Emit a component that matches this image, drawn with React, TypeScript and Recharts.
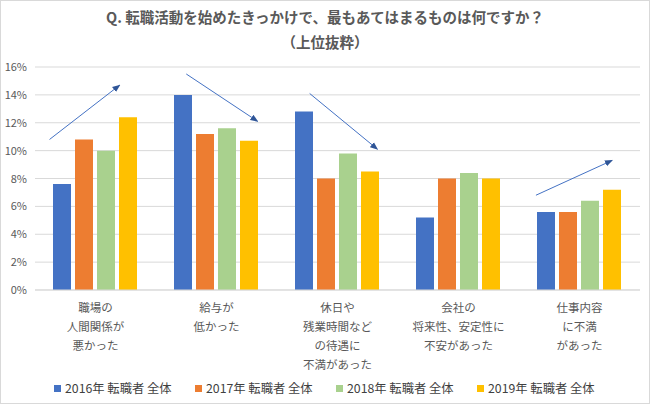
import React from "react";
import {
  BarChart,
  Bar,
  XAxis,
  YAxis,
  CartesianGrid,
  Legend,
  ReferenceLine,
  Customized,
} from "recharts";

if (typeof document !== "undefined") {
  document.body.style.margin = "0";
}

const categories = [
  "職場の\n人間関係が\n悪かった",
  "給与が\n低かった",
  "休日や\n残業時間など\nの待遇に\n不満があった",
  "会社の\n将来性、安定性に\n不安があった",
  "仕事内容\nに不満\nがあった",
];
const series2016 = [7.6, 14.0, 12.8, 5.2, 5.6];
const series2017 = [10.8, 11.2, 8.0, 8.0, 5.6];
const series2018 = [10.0, 11.6, 9.8, 8.4, 6.4];
const series2019 = [12.4, 10.7, 8.5, 8.0, 7.2];
const seriesNames = [
  "2016年 転職者 全体",
  "2017年 転職者 全体",
  "2018年 転職者 全体",
  "2019年 転職者 全体",
];
const seriesKeys = ["y2016", "y2017", "y2018", "y2019"];
const seriesColors = ["#4472C4", "#ED7D31", "#A9D18E", "#FFC000"];
const yTicks = [0, 2, 4, 6, 8, 10, 12, 14, 16];
const titleLines = [
  "Q. 転職活動を始めたきっかけで、最もあてはまるものは何ですか？",
  "（上位抜粋）",
];
// category centre positions on a continuous 0..5 scale
const categoryPos = [0.5, 1.5, 2.5, 3.5, 4.5];
// trend arrows, in (category-position, percent) units
const arrows = [
  [{ x: 0.12, y: 10.8 }, { x: 0.7, y: 14.7 }],
  [{ x: 1.25, y: 15.5 }, { x: 1.84, y: 12.1 }],
  [{ x: 2.27, y: 14.1 }, { x: 2.83, y: 10.1 }],
  [{ x: 4.14, y: 6.8 }, { x: 4.77, y: 9.3 }],
];

const data = categories.map((name, i) => ({
  name,
  pos: categoryPos[i],
  y2016: series2016[i],
  y2017: series2017[i],
  y2018: series2018[i],
  y2019: series2019[i],
}));

const FONT = '"Noto Sans CJK JP", "Noto Sans", sans-serif';
const TEXT = "#595959";

const XTick = (props: any) => {
  const { x, y, payload } = props;
  const lines = String(payload.value).split("\n");
  return (
    <text
      x={x}
      y={y}
      textAnchor="middle"
      fill={TEXT}
      fontSize={11.5}
      fontFamily={FONT}
    >
      {lines.map((l, i) => (
        <tspan key={i} x={x} dy={i === 0 ? 13.5 : 19}>
          {l}
        </tspan>
      ))}
    </text>
  );
};

const YTick = (props: any) => {
  const { x, y, payload } = props;
  return (
    <text
      x={x}
      y={y}
      dy={4}
      textAnchor="end"
      fill={TEXT}
      fontSize={11}
      fontFamily={FONT}
    >
      {payload.value}%
    </text>
  );
};

let arrowId = 0;
const ArrowShape = (props: any) => {
  const { x1, y1, x2, y2 } = props;
  if ([x1, y1, x2, y2].some((v) => v == null || isNaN(v))) return null;
  const id = "arrowhead" + arrowId++;
  return (
    <g>
      <defs>
        <marker
          id={id}
          viewBox="0 0 10 10"
          refX="9"
          refY="5"
          markerWidth="8"
          markerHeight="8"
          orient="auto"
          markerUnits="userSpaceOnUse"
        >
          <path d="M0,1 L10,5 L0,9 z" fill="#2F5597" />
        </marker>
      </defs>
      <line
        x1={x1}
        y1={y1}
        x2={x2}
        y2={y2}
        stroke="#4472C4"
        strokeWidth={1}
        markerEnd={`url(#${id})`}
      />
    </g>
  );
};

const LegendContent = () => (
  <div
    style={{
      position: "relative",
      height: 24,
      width: 650,
      fontFamily: FONT,
      fontSize: 12.3,
      color: "#404040",
    }}
  >
    {seriesNames.map((n, i) => (
      <div
        key={n}
        style={{
          position: "absolute",
          left: 54 + i * 141,
          top: 4,
          display: "flex",
          alignItems: "center",
          whiteSpace: "nowrap",
          lineHeight: "16px",
        }}
      >
        <span
          style={{
            display: "inline-block",
            width: 7,
            height: 7,
            background: seriesColors[i],
            marginRight: 4,
          }}
        />
        {n}
      </div>
    ))}
  </div>
);

const Title = () => (
  <g>
    <rect
      x={0.5}
      y={0.5}
      width={649}
      height={403}
      fill="none"
      stroke="#D9D9D9"
    />
    {titleLines.map((t, i) => (
      <text
        key={i}
        x={325}
        y={23 + i * 25}
        textAnchor="middle"
        fill={TEXT}
        fontSize={14.5}
        fontWeight="bold"
        fontFamily={FONT}
      >
        {t}
      </text>
    ))}
  </g>
);

export default function App() {
  return (
    <div style={{ width: 650, height: 405, background: "#fff" }}>
      <BarChart
        width={650}
        height={405}
        data={data}
        margin={{ top: 67, right: 10, left: 0, bottom: 5 }}
        barGap={4}
        barCategoryGap={18}
      >
        <Customized component={Title} />
        <CartesianGrid vertical={false} stroke="#D9D9D9" />
        <XAxis
          dataKey="name"
          tick={<XTick />}
          tickLine={false}
          axisLine={{ stroke: "#D9D9D9" }}
          interval={0}
          height={86}
        />
        <XAxis
          xAxisId="arrow"
          dataKey="pos"
          type="number"
          domain={[0, 5]}
          allowDataOverflow
          hide
        />
        <YAxis
          width={35}
          domain={[0, 16]}
          ticks={yTicks}
          tick={<YTick />}
          tickLine={false}
          axisLine={false}
          interval={0}
        />
        {seriesKeys.map((k, i) => (
          <Bar
            key={k}
            dataKey={k}
            name={seriesNames[i]}
            fill={seriesColors[i]}
            isAnimationActive={false}
          />
        ))}
        {arrows.map((seg, i) => (
          <ReferenceLine
            key={i}
            xAxisId="arrow"
            segment={seg}
            ifOverflow="visible"
            shape={(p: any) => <ArrowShape {...p} />}
          />
        ))}
        <Legend
          verticalAlign="bottom"
          height={24}
          content={<LegendContent />}
          wrapperStyle={{ left: 0, width: 650 }}
        />
      </BarChart>
    </div>
  );
}
